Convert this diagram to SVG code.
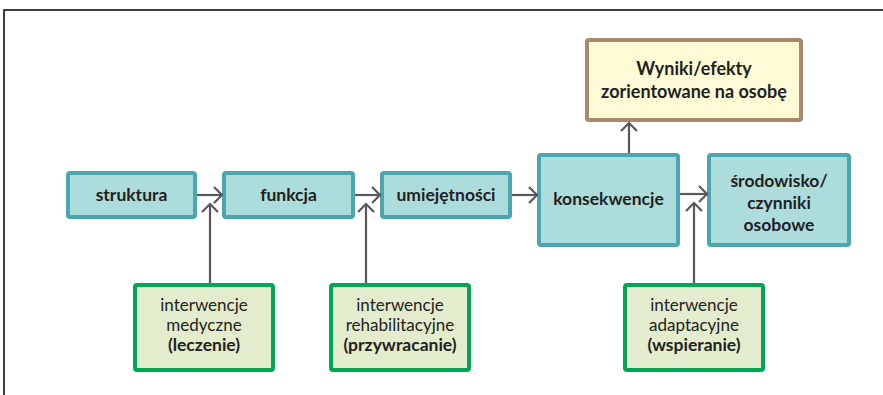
<svg xmlns="http://www.w3.org/2000/svg" width="883" height="395" viewBox="0 0 883 395">
<style>
.t{fill:#ADDCDD;stroke:#4AA6B0;stroke-width:4}
.g{fill:#E3ECCD;stroke:#00A651;stroke-width:4}
.y{fill:#FFFBD6;stroke:#A88A68;stroke-width:4}
text{font-family:Lato,"Open Sans","Liberation Sans",sans-serif;fill:#231F20;text-anchor:middle}
.b{font-weight:bold;font-size:17.5px}
.w{font-weight:bold;font-size:18px}
.r{font-size:17px}
.c line{stroke:#595959;stroke-width:2.2}
.c polyline{fill:none;stroke:#595959;stroke-width:2.2}
</style>
<rect x="4" y="10" width="900" height="400" fill="none" stroke="#000" stroke-width="1.5"/>
<g id="struktura"><rect class="t" x="68" y="173" width="127" height="44" rx="2"/><text class="b" x="131.5" y="201">struktura</text></g>
<g id="funkcja"><rect class="t" x="224" y="173" width="129" height="44" rx="2"/><text class="b" x="288.5" y="201">funkcja</text></g>
<g id="umiejetnosci"><rect class="t" x="382" y="173" width="128" height="44" rx="2"/><text class="b" x="446" y="201">umiejętności</text></g>
<g id="konsekwencje"><rect class="t" x="539" y="155" width="139" height="90" rx="2"/><text class="b" x="608.5" y="205">konsekwencje</text></g>
<g id="srodowisko"><rect class="t" x="709" y="155" width="140" height="90" rx="2"/><text class="b" x="779" y="187">środowisko/</text><text class="b" x="779" y="209">czynniki</text><text class="b" x="779" y="231">osobowe</text></g>
<g id="wyniki"><rect class="y" x="587" y="40" width="214" height="80" rx="2"/><text class="w" x="694" y="75">Wyniki/efekty</text><text class="w" x="694" y="98">zorientowane na osobę</text></g>
<g id="medyczne"><rect class="g" x="135" y="285" width="138" height="85" rx="2"/><text class="r" x="204" y="311">interwencje</text><text class="r" x="204" y="331">medyczne</text><text class="b" x="204" y="351">(leczenie)</text></g>
<g id="rehabilitacyjne"><rect class="g" x="331" y="285" width="138" height="85" rx="2"/><text class="r" x="400" y="311">interwencje</text><text class="r" x="400" y="331">rehabilitacyjne</text><text class="b" x="400" y="351">(przywracanie)</text></g>
<g id="adaptacyjne"><rect class="g" x="625" y="285" width="138" height="85" rx="2"/><text class="r" x="694" y="311">interwencje</text><text class="r" x="694" y="331">adaptacyjne</text><text class="b" x="694" y="351">(wspieranie)</text></g>
<g id="connectors" class="c">
<line x1="197" y1="195" x2="222" y2="195"/><polyline points="214,187 222,195 214,203"/>
<line x1="355" y1="195" x2="380" y2="195"/><polyline points="372,187 380,195 372,203"/>
<line x1="512" y1="195" x2="537" y2="195"/><polyline points="529,187 537,195 529,203"/>
<line x1="680" y1="194" x2="707" y2="194"/><polyline points="699,186 707,194 699,202"/>
<line x1="210" y1="283" x2="210" y2="204"/><polyline points="202,212 210,204 218,212"/>
<line x1="366" y1="283" x2="366" y2="204"/><polyline points="358,212 366,204 374,212"/>
<line x1="694" y1="283" x2="694" y2="203"/><polyline points="686,211 694,203 702,211"/>
<line x1="629" y1="153" x2="629" y2="123"/><polyline points="621,131 629,123 637,131"/>
</g>
</svg>
